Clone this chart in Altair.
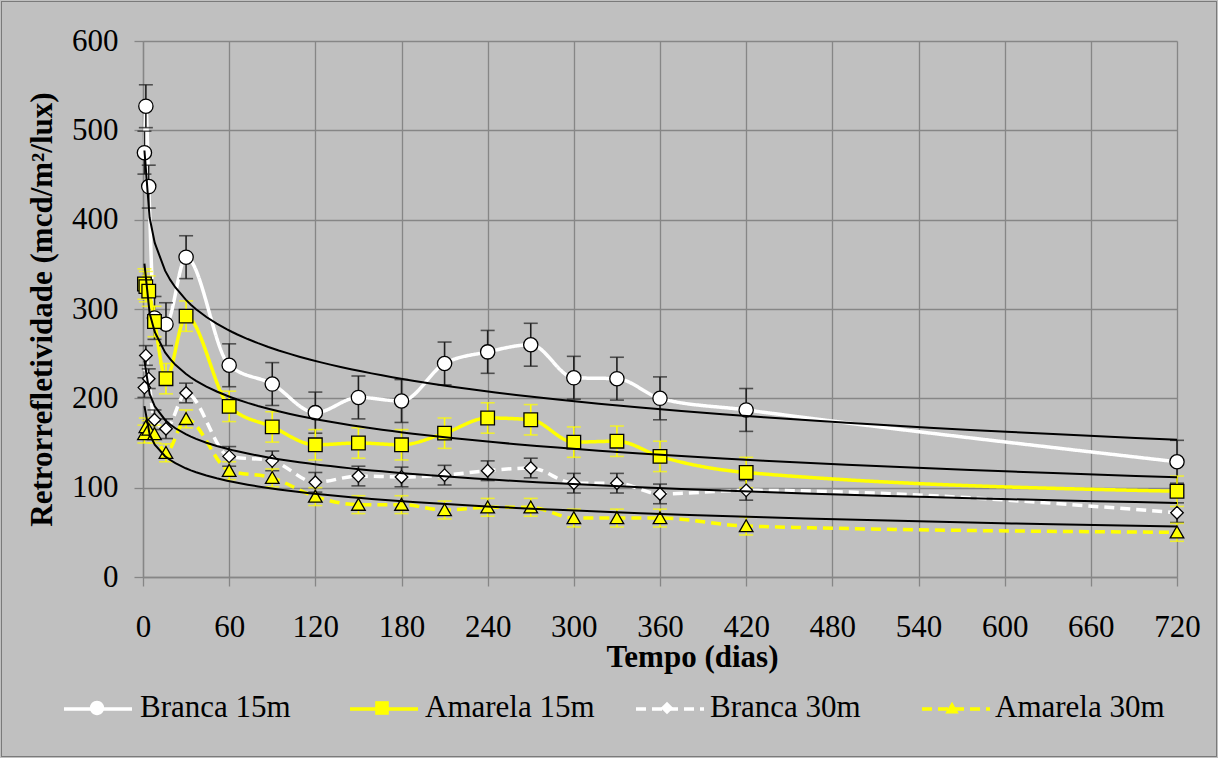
import altair as alt
import pandas as pd

# Measurement days
dias = [1, 2, 4, 8, 16, 30, 60, 90, 120, 150, 180, 210, 240, 270, 300, 330, 360, 420, 720]

series = ["Branca 15m", "Amarela 15m", "Branca 30m", "Amarela 30m"]
marker_codes = ["m1", "m2", "m3", "m4"]

# Mean retroreflectivity (mcd/m²/lux)
branca_15 = [475, 527, 437, 290, 283, 358, 237, 216, 184, 201, 197, 239, 252, 260, 223, 222, 200, 187, 129]
amarela_15 = [328, 325, 320, 286, 222, 292, 191, 168, 148, 150, 148, 161, 178, 176, 151, 152, 135, 117, 96]
branca_30 = [212, 248, 222, 176, 166, 206, 135, 130, 106, 113, 112, 114, 119, 122, 105, 105, 93, 97, 72]
amarela_30 = [160, 168, 165, 160, 139, 177, 119, 111, 90, 81, 81, 75, 78, 78, 66, 66, 66, 57, 50]

# Error bar half-widths
err_branca_15 = [24, 24, 24, 24, 24, 24, 24, 24, 23, 24, 24, 24, 24, 24, 24, 24, 24, 24, 24]
err_amarela_15 = [17, 17, 17, 17, 17, 17, 17, 17, 17, 17, 17, 17, 17, 17, 17, 17, 17, 17, 17]
err_branca_30 = [11, 11, 11, 11, 11, 11, 11, 11, 11, 11, 11, 11, 11, 11, 11, 11, 11, 11, 11]
err_amarela_30 = [10, 10, 10, 10, 10, 10, 10, 10, 10, 10, 10, 10, 10, 10, 10, 10, 10, 10, 10]

bar_group = ["escura", "amarela", "escura", "amarela"]

rows = []
for name, code, vals, errs, grp in zip(
    series, marker_codes,
    [branca_15, amarela_15, branca_30, amarela_30],
    [err_branca_15, err_amarela_15, err_branca_30, err_amarela_30],
    bar_group,
):
    for d, v, e in zip(dias, vals, errs):
        rows.append({"dias": d, "valor": v, "lo": v - e, "hi": v + e,
                     "serie": name, "marcador": code, "grupo": grp})
df = pd.DataFrame(rows)

FONT = "Liberation Serif"
GRID = "#868686"
line_colors = ["#ffffff", "#ffff00", "#ffffff", "#ffff00"]

# Marker outlines drawn inside a [-1, 1] box; size 4624 gives a 68 px box
circle = "M0.21,0A0.21,0.21 0 1,1 -0.21,0A0.21,0.21 0 1,1 0.21,0Z"
square = "M-0.2,-0.2L0.2,-0.2L0.2,0.2L-0.2,0.2Z"
diamond = "M0,-0.185L0.185,0L0,0.185L-0.185,0Z"
triangle = "M0,-0.185L0.2,0.165L-0.2,0.165Z"
BOX = 4624

# marker codes shown with the series names
code_labels = "{" + ", ".join(f"'{c}': '{n}'" for c, n in zip(marker_codes, series)) + "}"

common_legend = dict(
    orient="none", legendX=-81, legendY=632, direction="horizontal", columns=4,
    title=None, padding=0, gridAlign="all",
    labelFont=FONT, labelFontSize=31, labelColor="black",
    symbolSize=BOX, labelLimit=400,
)

x_enc = alt.X("dias:Q", scale=alt.Scale(domain=[0, 720], nice=False, zero=False),
              axis=alt.Axis(values=list(range(0, 721, 60)), title="Tempo (dias)",
                            labelFont=FONT, labelFontSize=31, labelPadding=26,
                            titleX=549, titleY=80, titleBaseline="middle"))
y_enc = alt.Y("valor:Q", scale=alt.Scale(domain=[0, 600], nice=False),
              axis=alt.Axis(values=list(range(0, 601, 100)),
                            labelFont=FONT, labelFontSize=31, labelPadding=16,
                            title="Retrorrefletividade (mcd/m²/lux)",
                            titleX=-101, titleBaseline="middle"))

base = alt.Chart(df)

# line samples of the legend: no label text, spaced to sit under the marker entries
line_legend = alt.Legend(symbolType="M-1,0L1,0", symbolStrokeWidth=3.5,
                         labelExpr="''", labelOffset=0, columnPadding=204,
                         **common_legend)
lines = base.mark_line(interpolate="monotone", strokeWidth=3.5).encode(
    x=x_enc, y=y_enc,
    color=alt.Color("serie:N", sort=series,
                    scale=alt.Scale(domain=series, range=line_colors),
                    legend=line_legend),
    strokeDash=alt.StrokeDash("serie:N", sort=series,
                              scale=alt.Scale(domain=series, range=[[1, 0], [1, 0], [10, 6], [10, 6]]),
                              legend=line_legend),
    order=alt.Order("dias:Q"),
)

def bars(grp, colour):
    sub = base.transform_filter(alt.datum.grupo == grp)
    rule = sub.mark_rule(color=colour, strokeWidth=1.6).encode(
        x="dias:Q", y="lo:Q", y2="hi:Q")
    cap_hi = sub.mark_tick(color=colour, orient="horizontal", size=14, thickness=1.6).encode(
        x="dias:Q", y="hi:Q")
    cap_lo = sub.mark_tick(color=colour, orient="horizontal", size=14, thickness=1.6).encode(
        x="dias:Q", y="lo:Q")
    return rule + cap_hi + cap_lo

marker_legend = alt.Legend(symbolStrokeColor="black", symbolStrokeWidth=1.3,
                           labelExpr=f"{code_labels}[datum.label]",
                           labelOffset=8, columnPadding=37, **common_legend)
points = base.mark_point(filled=True, stroke="black", strokeWidth=1.3, size=BOX, opacity=1).encode(
    x="dias:Q", y="valor:Q",
    shape=alt.Shape("marcador:N", sort=marker_codes,
                    scale=alt.Scale(domain=marker_codes, range=[circle, square, diamond, triangle]),
                    legend=marker_legend),
    fill=alt.Fill("marcador:N", sort=marker_codes,
                  scale=alt.Scale(domain=marker_codes, range=line_colors),
                  legend=marker_legend),
)

trend = base.transform_regression(
    "dias", "valor", method="log", groupby=["serie"], extent=[1, 720]
).mark_line(color="black", strokeWidth=2).encode(
    x="dias:Q", y="valor:Q", detail="serie:N")

chart = alt.layer(
    lines, bars("escura", "#1f1f1f"), bars("amarela", "#ffff00"), points, trend
).properties(
    width=1034, height=536,
    autosize=alt.AutoSizeParams(type="none"),
    padding={"left": 143, "top": 41, "right": 41, "bottom": 181},
    background="#c0c0c0",
).configure_view(stroke=None).configure_axis(
    grid=True, gridColor=GRID, gridWidth=1.3,
    domainColor=GRID, domainWidth=1.3,
    tickColor=GRID, tickWidth=1.3, tickSize=9,
    labelFont=FONT, labelFontSize=31, labelColor="black",
    titleFont=FONT, titleFontSize=31, titleFontWeight="bold", titleColor="black",
    labelOverlap=False, labelFlush=False,
)

chart.save("out.html", embed_options={"renderer": "svg", "actions": False})

# thin frame round the whole chart area
with open("out.html", encoding="utf-8") as fh:
    page = fh.read()
page = page.replace(
    "</head>",
    "<style>svg.marks{outline:1.5px solid #7a7a7a;outline-offset:-2px;}</style></head>", 1)
with open("out.html", "w", encoding="utf-8") as fh:
    fh.write(page)
